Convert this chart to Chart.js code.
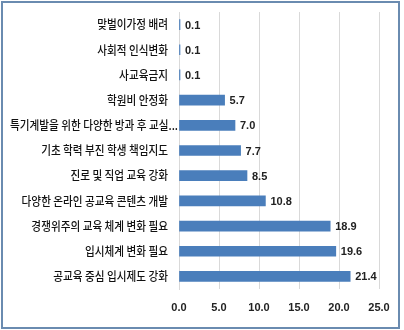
<!DOCTYPE html>
<html>
<head>
<meta charset="utf-8">
<script src="https://cdn.jsdelivr.net/npm/chart.js@4.4.0/dist/chart.umd.min.js"></script>
<style>
  body { margin: 0; background: #fff; }
  #wrap { position: relative; width: 404px; height: 330px; }
  #frame { position: absolute; left: 1px; top: 1px; width: 395px; height: 324px; border: 2px solid #6a8bb0; pointer-events: none; }
</style>
</head>
<body>
<div id="wrap">
  <canvas id="Chart_1" width="404" height="330"></canvas>
  <div id="frame"></div>
</div>
<script>
// 항목 (위에서 아래 순서)
const categories = [
  '맞벌이가정 배려',
  '사회적 인식변화',
  '사교육금지',
  '학원비 안정화',
  '특기계발을 위한 다양한 방과 후 교실...',
  '기초 학력 부진 학생 책임지도',
  '진로 및 직업 교육 강화',
  '다양한 온라인 공교육 콘텐츠 개발',
  '경쟁위주의 교육 체계 변화 필요',
  '입시체계 변화 필요',
  '공교육 중심 입시제도 강화'
];
const values = [0.1, 0.1, 0.1, 5.7, 7.0, 7.7, 8.5, 10.8, 18.9, 19.6, 21.4];
const xTicks = [0, 5, 10, 15, 20, 25];

const numFont = '"Liberation Sans Narrow", "Liberation Sans", sans-serif';

// 막대 끝에 값 표시 + 좁은 한글 항목 이름
const labelsPlugin = {
  id: 'labelsPlugin',
  afterDatasetsDraw(chart) {
    const c = chart.ctx;
    const meta = chart.getDatasetMeta(0);
    const left = chart.chartArea.left;
    c.save();
    c.font = 'bold 11px ' + numFont;
    c.fillStyle = '#222';
    c.textBaseline = 'middle';
    c.textAlign = 'left';
    meta.data.forEach((bar, i) => {
      c.fillText(values[i].toFixed(1), bar.x + 5, bar.y + 1);
    });

    // y축 항목 이름 (가로로 조금 좁게)
    c.font = '500 12.5px "Noto Sans CJK KR", sans-serif';
    c.fillStyle = '#111';
    c.textAlign = 'right';
    const sx = 0.85;
    meta.data.forEach((bar, i) => {
      const txt = categories[i];
      let right = left - 11;
      let w = c.measureText(txt).width * sx;
      let maxW = 160;
      if (w > maxW) { right = left - 1; maxW = 170; }
      c.save();
      c.translate(right, bar.y);
      c.scale(sx, 1);
      c.fillText(txt, 0, 0, maxW / sx);
      c.restore();
    });
    c.restore();
  }
};

const ctx = document.getElementById('Chart_1');

const Chart_1 = new Chart(ctx, {
  type: 'bar',
  data: {
    labels: categories,
    datasets: [{
      data: values,
      backgroundColor: '#4a7ebb',
      barThickness: 10,
      minBarLength: 1
    }]
  },
  plugins: [labelsPlugin],
  options: {
    indexAxis: 'y',
    responsive: false,
    animation: false,
    layout: { padding: { top: 12, right: 25, bottom: 0, left: 0 } },
    plugins: {
      legend: { display: false },
      tooltip: { enabled: false }
    },
    scales: {
      x: {
        min: 0,
        max: 25,
        afterBuildTicks: (scale) => { scale.ticks = xTicks.map(v => ({ value: v })); },
        afterFit: (scale) => { scale.height = 41; },
        grid: { color: '#d9d9d9', drawTicks: false },
        border: { display: false },
        ticks: {
          padding: 12,
          color: '#222',
          font: { family: numFont, size: 11, weight: 'bold' },
          callback: (v) => Number(v).toFixed(1)
        }
      },
      y: {
        afterFit: (scale) => { scale.width = 179; },
        grid: { display: false },
        border: { display: true, color: '#d9d9d9' },
        ticks: { display: false }
      }
    }
  }
});
</script>
</body>
</html>
